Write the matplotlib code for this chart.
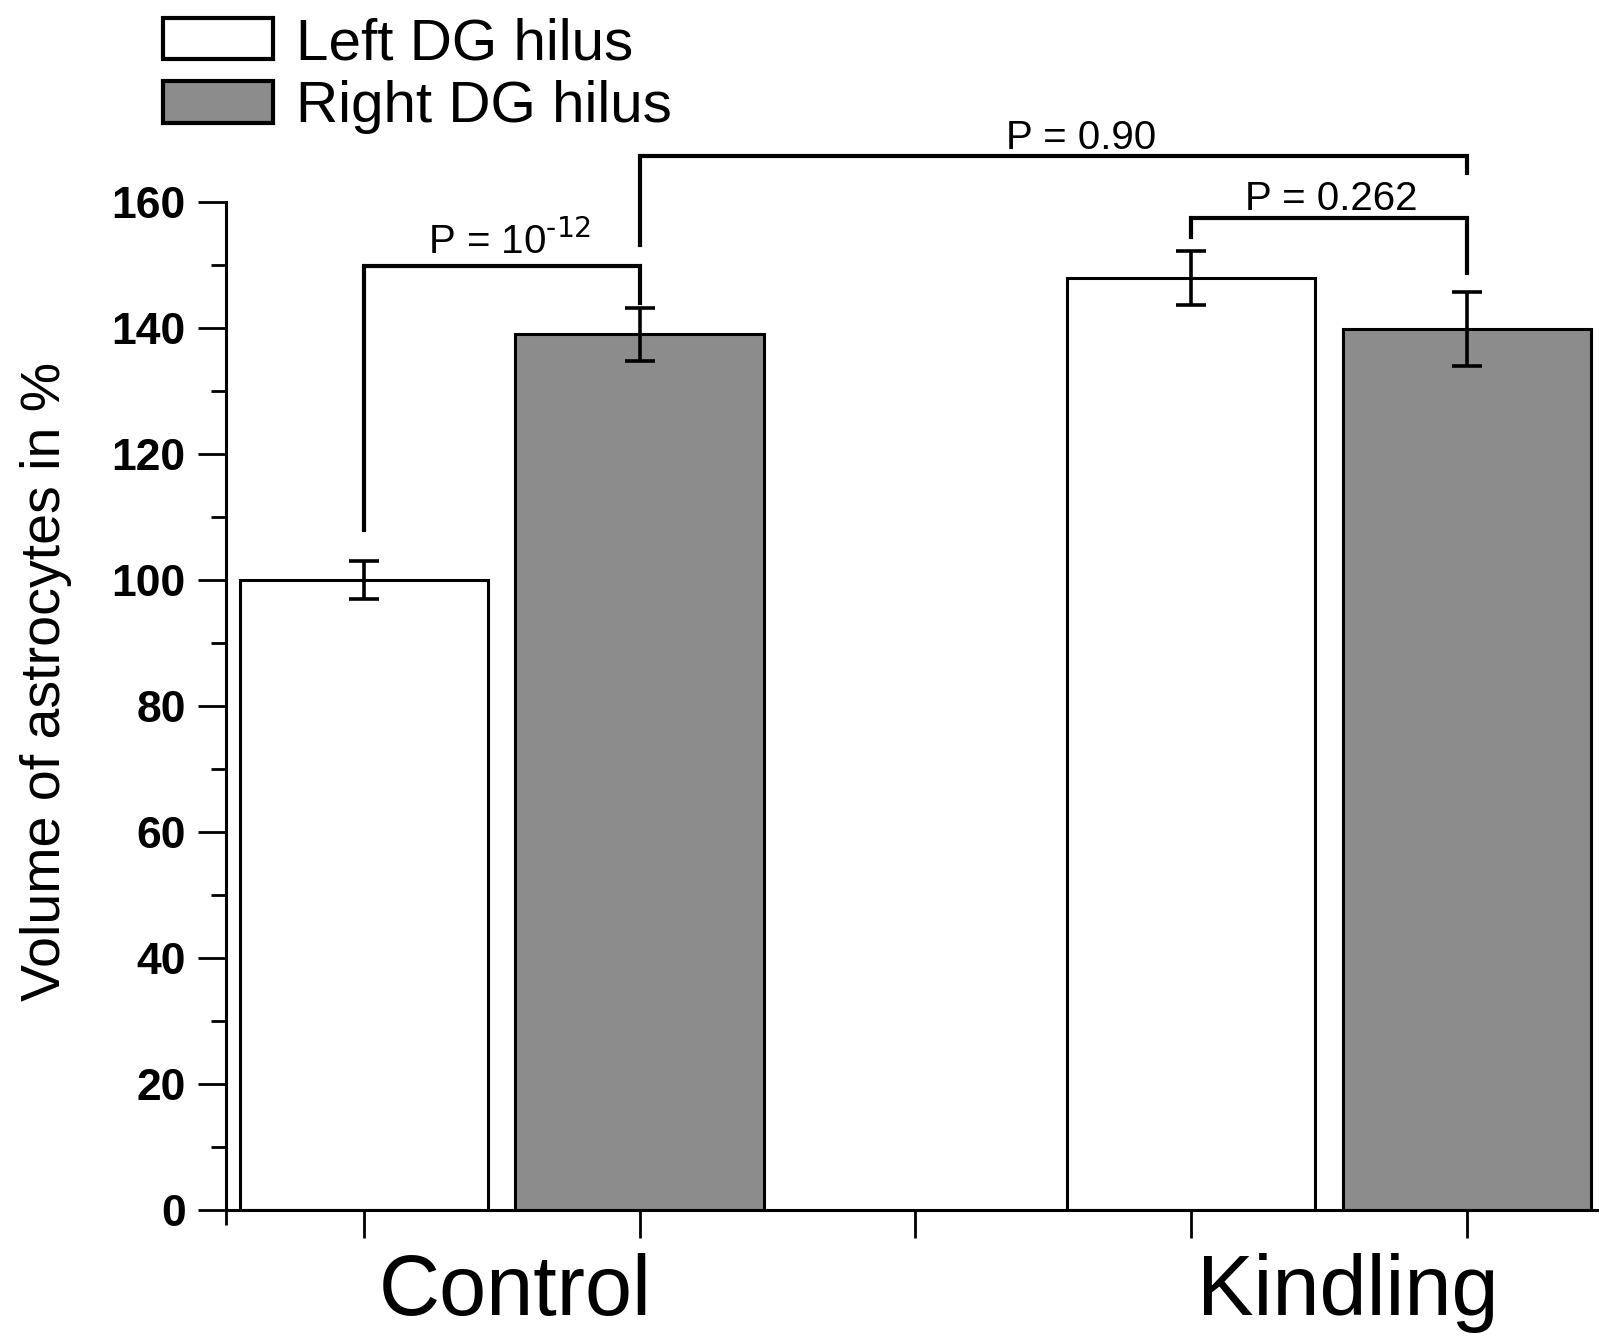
import matplotlib
matplotlib.use("Agg")
import matplotlib.pyplot as plt
from matplotlib.ticker import MultipleLocator, FixedLocator
import matplotlib.transforms as mtransforms

plt.rcParams['font.family'] = ['Liberation Sans', 'DejaVu Sans']
plt.rcParams['mathtext.default'] = 'regular'

# ---- data ----
groups = ["Control", "Kindling"]
series = ["Left DG hilus", "Right DG hilus"]
positions_left = [1, 4]
positions_right = [2, 5]
left_vals = [100.0, 148.0]
left_err = [3.0, 4.3]
right_vals = [139.0, 139.8]
right_err = [4.2, 5.9]

# significance brackets: (x1, x2, y_left_leg_end, y_top, y_right_leg_end, label, label_x, label_y)
brackets = [
    (1, 2, 108.0, 149.8, 144.0, "P = 10$^{\\text{-12}}$", 1.53, 151.8),
    (2, 5, 153.2, 167.3, 164.6, "P = 0.90", 3.60, 168.4),
    (4, 5, 154.5, 157.4, 148.7, "P = 0.262", 4.51, 158.7),
]
yticks = [0, 20, 40, 60, 80, 100, 120, 140, 160]

fig = plt.figure(figsize=(15.99, 13.38), dpi=100)
ax = fig.add_axes([226/1599, 1 - 1210/1338, 1 - 226/1599, (1210 - 202)/1338])

bw = 0.9
ax.bar(positions_left, left_vals, width=bw, color='white', edgecolor='black',
       linewidth=2.2, label=series[0], zorder=2)
ax.bar(positions_right, right_vals, width=bw, color='#8c8c8c', edgecolor='black',
       linewidth=2.2, label=series[1], zorder=2)
ax.errorbar(positions_left, left_vals, yerr=left_err, fmt='none', ecolor='black',
            elinewidth=2.6, capsize=11, capthick=2.6, zorder=3)
ax.errorbar(positions_right, right_vals, yerr=right_err, fmt='none', ecolor='black',
            elinewidth=2.6, capsize=11, capthick=2.6, zorder=3)

for x1, x2, yl, yt, yr, lab, lx, ly in brackets:
    ax.plot([x1, x1, x2, x2], [yl, yt, yt, yr], color='black', lw=3.0,
            clip_on=False, solid_joinstyle='miter', zorder=4)
    ax.text(lx, ly, lab, ha='center', va='baseline', fontsize=29, clip_on=False)

ax.set_xlim(0.5, 5.48)
ax.set_ylim(0, 160)

for s in ['top', 'right']:
    ax.spines[s].set_visible(False)
for s in ['left', 'bottom']:
    ax.spines[s].set_linewidth(2.2)

ax.set_yticks(yticks)
ax.set_yticklabels([str(t) for t in yticks], fontsize=32, fontweight='bold')
ax.yaxis.set_minor_locator(MultipleLocator(10))
ax.tick_params(axis='y', which='major', direction='out', length=20, width=2.0, pad=9)
ax.tick_params(axis='y', which='minor', direction='out', length=11, width=2.0)

ax.set_xticks([1, 2, 3, 4, 5])
ax.set_xticklabels([])
ax.xaxis.set_minor_locator(FixedLocator([0.5]))
ax.tick_params(axis='x', which='major', direction='out', length=20, width=2.0)
ax.tick_params(axis='x', which='minor', direction='out', length=11, width=2.0)

trans = mtransforms.blended_transform_factory(ax.transData, ax.transAxes)
group_centers = [1.55, 4.57]
for gx, g in zip(group_centers, groups):
    ax.text(gx, -0.104, g, transform=trans, ha='center', va='baseline', fontsize=61)

fig.text(46/1599, 1 - 681/1338, "Volume of astrocytes in %", rotation=90,
         ha='center', va='center', fontsize=40)

leg = ax.legend(loc='upper left', bbox_to_anchor=(163/1599, 1 - 17/1338),
                bbox_transform=fig.transFigure, frameon=False, fontsize=42,
                handlelength=1.88, handleheight=0.72, handletextpad=0.4,
                labelspacing=0.16, borderpad=0, borderaxespad=0)
for h in leg.legend_handles:
    h.set_linewidth(3.0)

fig.savefig("out.png", dpi=100)
